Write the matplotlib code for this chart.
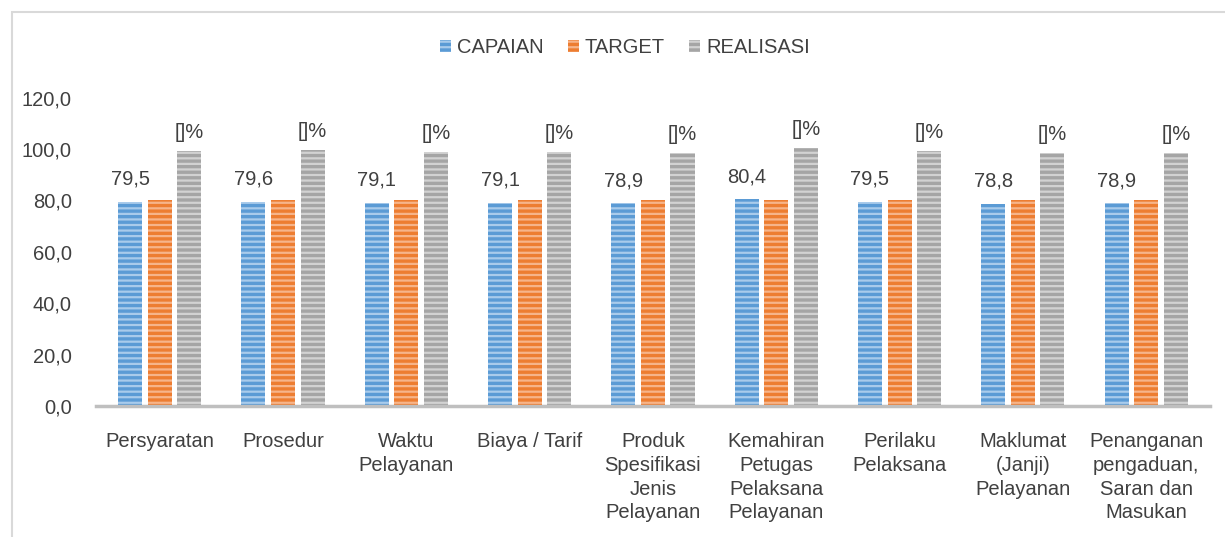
import numpy as np
import matplotlib.pyplot as plt
from matplotlib.patches import Rectangle

plt.rcParams['font.family'] = ['Liberation Sans', 'DejaVu Sans']
plt.rcParams['hatch.linewidth'] = 1.6

# ------------------------------------------------------------
# Data
# ------------------------------------------------------------
categories = [
    "Persyaratan",
    "Prosedur",
    "Waktu\nPelayanan",
    "Biaya / Tarif",
    "Produk\nSpesifikasi\nJenis\nPelayanan",
    "Kemahiran\nPetugas\nPelaksana\nPelayanan",
    "Perilaku\nPelaksana",
    "Maklumat\n(Janji)\nPelayanan",
    "Penanganan\npengaduan,\nSaran dan\nMasukan",
]
capaian = [79.5, 79.6, 79.1, 79.1, 78.9, 80.4, 79.5, 78.8, 78.9]
target = [80.0, 80.0, 80.0, 80.0, 80.0, 80.0, 80.0, 80.0, 80.0]
realisasi = [99.4, 99.5, 98.9, 98.9, 98.6, 100.5, 99.4, 98.5, 98.6]
series_names = ["CAPAIAN", "TARGET", "REALISASI"]
yticks = [0, 20, 40, 60, 80, 100, 120]

# ------------------------------------------------------------
# Plot
# ------------------------------------------------------------
fig = plt.figure(figsize=(12.25, 5.37), dpi=100)
ax = fig.add_axes([0.078, 0.244, 0.910, 0.574])

x = np.arange(len(categories))
w = 0.195
step = 0.24

fills = ["#5b9bd5", "#ed7d31", "#a5a5a5"]
stripes = ["#a9cbeb", "#f6b48a", "#d2d2d2"]
data = [capaian, target, realisasi]

for i, (vals, fc, hc, name) in enumerate(zip(data, fills, stripes, series_names)):
    ax.bar(x + (i - 1) * step, vals, width=w, color=fc, edgecolor=hc,
           linewidth=0, hatch="---", label=name)

txt = "#404040"
fs = 14.5

# value labels
for xi, v in zip(x, capaian):
    ax.text(xi - step, v + 5, f"{v:.1f}".replace(".", ","),
            ha="center", va="bottom", fontsize=fs, color=txt)
for xi, v in zip(x, realisasi):
    ax.text(xi + step, v + 3.5, "[]%",
            ha="center", va="bottom", fontsize=fs, color=txt)

ax.set_xlim(-0.52, len(categories) - 0.48)
ax.set_ylim(0, 120)
ax.set_yticks(yticks)
ax.set_yticklabels([f"{t:.1f}".replace(".", ",") for t in yticks],
                   fontsize=fs, color=txt)
ax.set_xticks(x)
ax.set_xticklabels(categories, fontsize=fs, color=txt,
                   linespacing=1.31, va="top")
ax.tick_params(axis="both", length=0)
ax.tick_params(axis="y", pad=17)
ax.tick_params(axis="x", pad=19)

for s in ["top", "right", "left"]:
    ax.spines[s].set_visible(False)
ax.spines["bottom"].set_color("#bfbfbf")
ax.spines["bottom"].set_linewidth(2.5)

leg = ax.legend(loc="center", ncol=3, frameon=False,
                fontsize=fs, handlelength=0.55, handleheight=0.55,
                handletextpad=0.3, columnspacing=1.2, labelcolor=txt)
leg.set_bbox_to_anchor((0.51, 0.912), transform=fig.transFigure)

# outer frame
fig.patches.append(Rectangle((0.0098, -0.01), 1.0, 0.9876, transform=fig.transFigure,
                             fill=False, edgecolor="#d9d9d9", linewidth=1.5))

fig.savefig("out.png", dpi=100)
